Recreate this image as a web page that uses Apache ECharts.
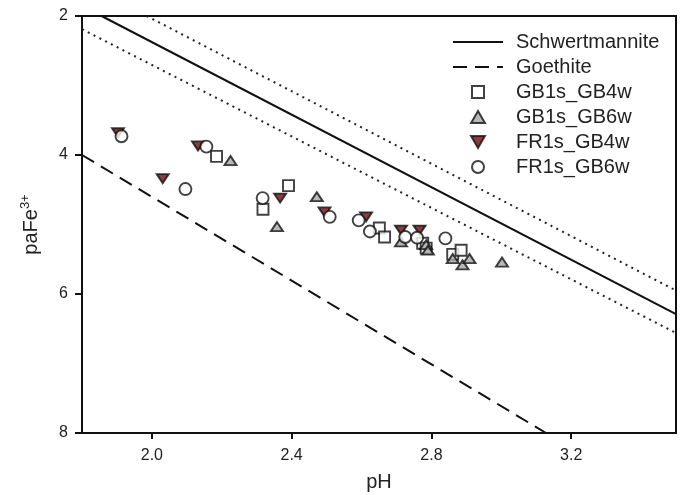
<!DOCTYPE html>
<html>
<head>
<meta charset="utf-8">
<script src="https://cdn.jsdelivr.net/npm/echarts@6/dist/echarts.min.js"></script>
<style>html,body{margin:0;padding:0;background:#fff;}#c{width:685px;height:495px;}</style>
</head>
<body>
<div id="c"></div>
<script>
// Tick labels
var xTicks = [2.0, 2.4, 2.8, 3.2];
var yTicks = [2, 4, 6, 8];
// Reference lines (endpoints): [pH, paFe3+]
var schwertmannite = [[1.856, 2.0], [3.5, 6.29]];
var goethite = [[1.8, 4.0], [3.128, 8.0]];
var schwertUpper = [[1.985, 2.0], [3.5, 5.95]];
var schwertLower = [[1.8, 2.19], [3.5, 6.56]];
// Data series: [pH, paFe3+]
var gb1sGb4w = [[2.185,4.02],[2.318,4.78],[2.391,4.44],[2.651,5.05],[2.666,5.18],[2.775,5.27],[2.785,5.34],[2.861,5.43],[2.885,5.37]];
var gb1sGb6w = [[2.225,4.08],[2.358,5.03],[2.472,4.60],[2.713,5.25],[2.785,5.29],[2.790,5.37],[2.861,5.49],[2.889,5.58],[2.909,5.49],[3.002,5.54]];
var fr1sGb4w = [[1.903,3.68],[2.132,3.87],[2.031,4.34],[2.367,4.62],[2.494,4.82],[2.613,4.89],[2.713,5.08],[2.766,5.08]];
var fr1sGb6w = [[1.913,3.73],[2.096,4.49],[2.156,3.88],[2.317,4.62],[2.509,4.89],[2.592,4.94],[2.624,5.10],[2.725,5.18],[2.759,5.19],[2.840,5.20]];

var FONT = 'Liberation Sans, Arial, sans-serif';
var SQUARE = 'path://M0,0L10,0L10,10L0,10Z';
var TRI_UP = 'path://M6,0L12,10.4L0,10.4Z';
var TRI_DOWN = 'path://M0,0L12,0L6,10.4Z';
var chart = echarts.init(document.getElementById('c'), null, {renderer: 'canvas'});
var border = {borderColor: '#111', borderWidth: 1.9};
var hidden = {color: 'transparent', borderWidth: 0, opacity: 0};
var option = {
  animation: false,
  backgroundColor: '#fff',
  grid: {left: 82, right: 9, top: 16, bottom: 62, outerBoundsMode: 'none', containLabel: false,
    show: true, borderColor: '#111', borderWidth: 2, backgroundColor: 'transparent'},
  legend: {
    left: 452, top: 32, orient: 'vertical', padding: 0,
    itemWidth: 50, itemHeight: 12, itemGap: 5, symbolKeepAspect: true,
    textStyle: {fontFamily: FONT, fontSize: 20, color: '#222', lineHeight: 20, padding: [0, 0, 0, 8]},
    data: [
      {name: 'Schwertmannite', itemStyle: hidden},
      {name: 'Goethite', itemStyle: hidden},
      'GB1s_GB4w', 'GB1s_GB6w', 'FR1s_GB4w', 'FR1s_GB6w']
  },
  xAxis: {
    type: 'value', min: 1.8, max: 3.5,
    name: 'pH', nameLocation: 'middle', nameGap: 39,
    nameTextStyle: {fontFamily: FONT, fontSize: 20, color: '#222'},
    axisLine: {lineStyle: {color: '#111', width: 2}},
    axisTick: {show: true, inside: false, length: 6, lineStyle: {color: '#111', width: 2}, customValues: xTicks},
    axisLabel: {customValues: xTicks, fontFamily: FONT, fontSize: 16, color: '#222', margin: 15, formatter: function(v){return v.toFixed(1);}},
    splitLine: {show: false}
  },
  yAxis: {
    type: 'value', min: 2, max: 8, interval: 2, inverse: true,
    name: '{n|paFe}{s|3+}', nameLocation: 'middle', nameGap: 38, nameRotate: 90,
    nameTextStyle: {fontFamily: FONT, fontSize: 20, color: '#222',
      rich: {n: {fontFamily: FONT, fontSize: 20, color: '#222'}, s: {fontFamily: FONT, fontSize: 13, color: '#222', padding: [0, 0, 12, 0]}}},
    axisLine: {lineStyle: {color: '#111', width: 2}},
    axisTick: {show: true, inside: false, length: 7, lineStyle: {color: '#111', width: 2}},
    axisLabel: {fontFamily: FONT, fontSize: 16, color: '#222', margin: 14},
    splitLine: {show: false}
  },
  series: [
    {name: 'Schwertmannite', type: 'line', data: schwertmannite, symbol: 'none', silent: true, z: 2,
      lineStyle: {color: '#111', width: 2, type: 'solid'}, itemStyle: hidden},
    {name: 'Goethite', type: 'line', data: goethite, symbol: 'none', silent: true, z: 2,
      lineStyle: {color: '#111', width: 2, type: [14, 8]}, itemStyle: hidden},
    {name: 'upper', type: 'line', data: schwertUpper, symbol: 'none', silent: true, z: 2,
      lineStyle: {color: '#222', width: 2, type: [2, 4.5]}},
    {name: 'lower', type: 'line', data: schwertLower, symbol: 'none', silent: true, z: 2,
      lineStyle: {color: '#222', width: 2, type: [2, 4.5]}},
    {name: 'GB1s_GB4w', type: 'scatter', data: gb1sGb4w, symbol: SQUARE, symbolSize: 11, symbolKeepAspect: true, z: 3,
      itemStyle: Object.assign({color: '#fff'}, border)},
    {name: 'GB1s_GB6w', type: 'scatter', data: gb1sGb6w, symbol: TRI_UP, symbolSize: [12, 10.4], symbolKeepAspect: true, z: 3,
      itemStyle: Object.assign({color: '#a6a6a6'}, border)},
    {name: 'FR1s_GB4w', type: 'scatter', data: fr1sGb4w, symbol: TRI_DOWN, symbolSize: [12, 10.4], symbolKeepAspect: true, z: 3,
      itemStyle: Object.assign({color: '#6e0b0b'}, border)},
    {name: 'FR1s_GB6w', type: 'scatter', data: fr1sGb6w, symbol: 'circle', symbolSize: 12, z: 3,
      itemStyle: Object.assign({color: '#fff'}, border)}
  ]
};
chart.setOption(option);
</script>
</body>
</html>
